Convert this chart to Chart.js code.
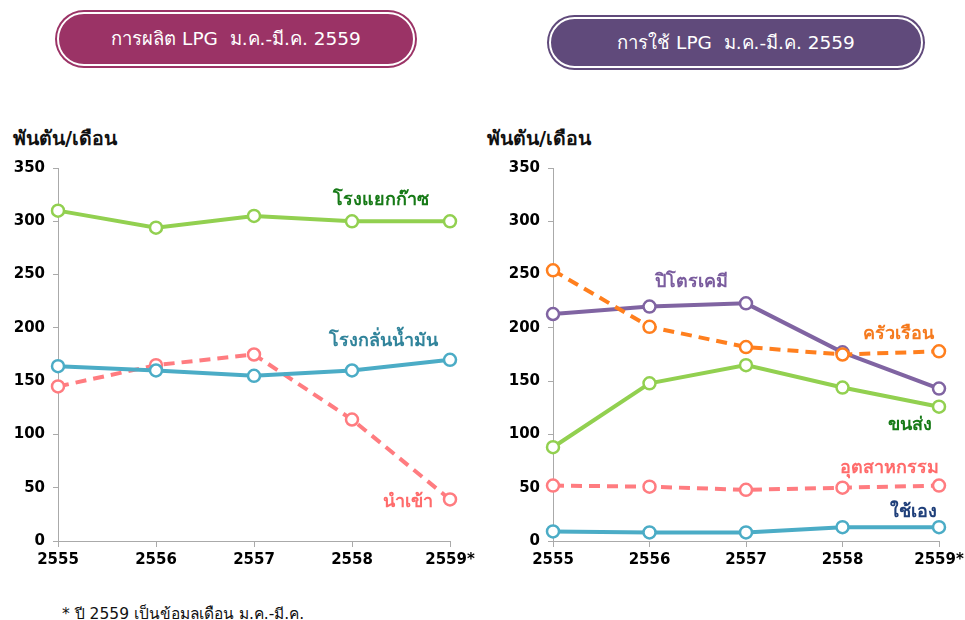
<!DOCTYPE html>
<html lang="th">
<head>
<meta charset="UTF-8">
<title>LPG</title>
<script src="https://cdn.jsdelivr.net/npm/chart.js"></script>
<style>
  body { margin: 0; width: 965px; height: 620px; position: relative; background: #fff; overflow: hidden;
         font-family: Tahoma, "DejaVu Sans", sans-serif; }
  .box { position: absolute; box-sizing: border-box; border: 2px solid #fff; border-radius: 30px;
         color: #fff; font-size: 18.5px; text-align: center; }
  .unit { position: absolute; font-weight: bold; font-size: 19.5px; color: #111; }
  .lbl { position: absolute; font-weight: bold; font-size: 18px; white-space: nowrap; }
  canvas { position: absolute; }
  .note { position: absolute; left: 62px; top: 601px; font-size: 15.5px; color: #111; }
</style>
</head>
<body>
<div class="box" style="left:57px;top:12px;width:358px;height:54px;line-height:50px;background:#9B3366;box-shadow:0 0 0 2px #9B3366;">การผลิต LPG&nbsp; ม.ค.-มี.ค. 2559</div>
<div class="box" style="left:549px;top:17px;width:374px;height:51px;line-height:47px;background:#604A7B;box-shadow:0 0 0 2px #604A7B;">การใช้ LPG&nbsp; ม.ค.-มี.ค. 2559</div>

<div class="unit" style="left:13px;top:123px;">พันตัน/เดือน</div>
<div class="unit" style="left:487px;top:123px;">พันตัน/เดือน</div>

<canvas id="prod" width="480" height="431" style="left:0;top:150px;"></canvas>
<canvas id="use" width="490" height="431" style="left:480px;top:150px;"></canvas>

<div class="lbl" style="left:333px;top:184px;color:#177A17;">โรงแยกก๊าซ</div>
<div class="lbl" style="left:329px;top:325px;color:#31849B;">โรงกลั่นน้ำมัน</div>
<div class="lbl" style="left:383px;top:486px;color:#FF6B6B;">นำเข้า</div>

<div class="lbl" style="left:655px;top:266px;color:#7A5C9E;">ปิโตรเคมี</div>
<div class="lbl" style="left:863px;top:318px;color:#F57A1E;">ครัวเรือน</div>
<div class="lbl" style="left:888px;top:409px;color:#177A17;">ขนส่ง</div>
<div class="lbl" style="left:840px;top:452px;color:#FF6B6B;">อุตสาหกรรม</div>
<div class="lbl" style="left:890px;top:496px;color:#1F3F7A;">ใช้เอง</div>

<div class="note">* ปี 2559 เป็นข้อมลเดือน ม.ค.-มี.ค.</div>

<script>
const years = ["2555", "2556", "2557", "2558", "2559*"];
const yTicks = [0, 50, 100, 150, 200, 250, 300, 350];

// การผลิต
const gasPlant = [310, 294, 305, 300, 300];
const refinery = [164, 160, 155, 160, 170];
const imports = [145, 165, 175, 114, 39];

// การใช้
const petrochem = [213, 220, 223, 177, 143];
const household = [254, 201, 182, 175, 178];
const transport = [88, 148, 165, 144, 126];
const industry = [52, 51, 48, 50, 52];
const ownUse = [9, 8, 8, 13, 13];

function series(data, color, dashed) {
  return {
    data: data,
    borderColor: color,
    borderWidth: 4,
    borderDash: dashed ? [11, 7] : [],
    pointRadius: 6,
    pointBorderWidth: 2.5,
    pointBackgroundColor: "#fff",
    pointBorderColor: color,
    tension: 0
  };
}

const tickFont = { family: "'DejaVu Sans', Verdana, sans-serif", size: 15, weight: "bold" };

function makeChart(id, sets, yWidth, padRight) {
  new Chart(document.getElementById(id), {
    type: "line",
    data: { labels: years, datasets: sets },
    options: {
      responsive: false,
      animation: false,
      layout: { padding: { top: 18, right: padRight, bottom: 0, left: 0 } },
      plugins: { legend: { display: false }, tooltip: { enabled: false } },
      scales: {
        x: {
          offset: false,
          grid: { display: true, drawOnChartArea: false, drawTicks: true, tickLength: 6, color: "#aaa" },
          border: { color: "#aaa", width: 1 },
          ticks: { color: "#000", font: tickFont, padding: 4, maxRotation: 0, autoSkip: false },
          afterFit: s => { s.height = 40; }
        },
        y: {
          min: 0, max: 350,
          afterBuildTicks: s => { s.ticks = yTicks.map(v => ({ value: v })); },
          grid: { display: true, drawOnChartArea: false, drawTicks: true, tickLength: 5, color: "#aaa" },
          border: { color: "#aaa", width: 1 },
          ticks: { color: "#000", font: tickFont, padding: 8 },
          afterFit: s => { s.width = yWidth; }
        }
      }
    }
  });
}

makeChart("prod", [
  series(gasPlant, "#92D050", false),
  series(refinery, "#4BACC6", false),
  series(imports, "#FF7C80", true)
], 58, 30);

makeChart("use", [
  series(industry, "#FF7C80", true),
  series(ownUse, "#4BACC6", false),
  series(transport, "#92D050", false),
  series(household, "#FF7F1E", true),
  series(petrochem, "#8064A2", false)
], 73, 31);
</script>
</body>
</html>
